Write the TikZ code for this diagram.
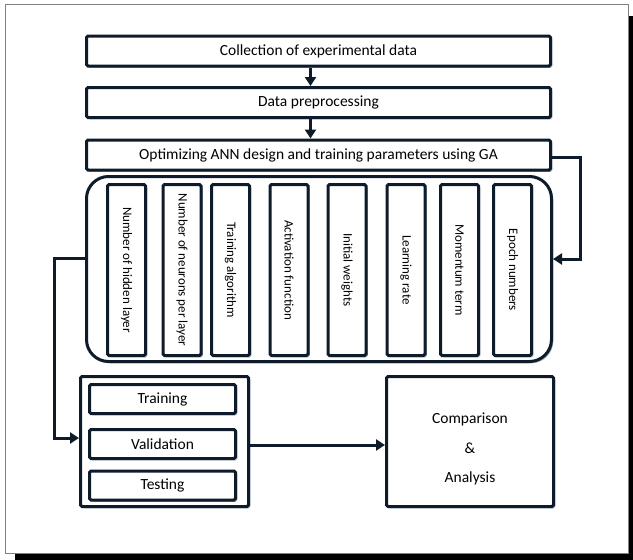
\documentclass[tikz,border=0pt]{standalone}
\usepackage{fontspec}
\setmainfont{Carlito}
\usetikzlibrary{arrows.meta,shadows}

\definecolor{navy}{RGB}{14,27,42}
\definecolor{shade}{RGB}{165,185,198}

\tikzset{
  stepbox/.style={draw=navy, line width=3pt, fill=white, rounded corners=1.5pt, inner sep=0pt,
    drop shadow={shadow xshift=1.8pt, shadow yshift=-1.8pt, fill=shade, opacity=1}},
  wide/.style={stepbox, minimum width=464pt, minimum height=30pt},
  param/.style={stepbox, minimum width=38pt, minimum height=171pt, font=\fontsize{13}{15}\selectfont},
  split/.style={stepbox, minimum width=146pt, minimum height=29pt},
  flow/.style={draw=navy, line width=3pt, -{Triangle[length=9pt,width=11pt]}}
}

\begin{document}
\begin{tikzpicture}[x=1pt,y=-1pt,every node/.style={font=\fontsize{15.5}{18}\selectfont}]
            \useasboundingbox (0,0) rectangle (633,560);

            %frame
            \fill[black] (15,16) rectangle (633,560);
            \filldraw[fill=white,draw=gray,line width=0.8pt] (5,4) rectangle (628,553);

            %main steps
            \node[wide] (collect) at (318.5,51) {Collection of experimental data};
            \node[wide] (prep) at (318.5,102.5) {Data preprocessing};
            \node[wide] (optim) at (318.5,155) {Optimizing ANN design and training parameters using GA};

            %GA parameters
            \node[stepbox,rounded corners=22pt,minimum width=465pt,minimum height=185pt] (params) at (319,269) {};
            \node[param] (hidden) at (126.5,270) {\rotatebox[origin=c]{-90}{Number of hidden layer}};
            \node[param] (neurons) at (182,270) {\rotatebox[origin=c]{-90}{Number of neurons per layer}};
            \node[param] (algo) at (230.5,270) {\rotatebox[origin=c]{-90}{Training algorithm}};
            \node[param] (activ) at (289,270) {\rotatebox[origin=c]{-90}{Activation function}};
            \node[param] (weights) at (347,270) {\rotatebox[origin=c]{-90}{Initial weights}};
            \node[param] (lrate) at (406,270) {\rotatebox[origin=c]{-90}{Learning rate}};
            \node[param] (momentum) at (459.5,270) {\rotatebox[origin=c]{-90}{Momentum term}};
            \node[param] (epoch) at (512.5,270) {\rotatebox[origin=c]{-90}{Epoch numbers}};

            %data split
            \node[stepbox,minimum width=168pt,minimum height=130pt] (group) at (164.5,441.5) {};
            \node[split] (train) at (162.5,399) {Training};
            \node[split] (valid) at (162.5,444) {Validation};
            \node[split] (test) at (162.5,485.5) {Testing};

            %result
            \node[stepbox,minimum width=167pt,minimum height=130pt] (compare) at (470,441.5)
                {\raisebox{-8pt}[\height][\depth]{\begin{tabular}{@{}c@{}}Comparison\\[11.5pt]\&\\[11.5pt]Analysis\end{tabular}}};

            %arrows
            \draw[flow] ([xshift=-8pt]collect.south) -- ([xshift=-8pt]prep.north);
            \draw[flow] ([xshift=-8pt]prep.south) -- ([xshift=-8pt]optim.north);
            \draw[flow] ([yshift=-2pt]optim.east) -- ++(28,0) |- ([yshift=10pt]params.east);
            \draw[flow] ([yshift=11pt]params.west) -- ++(-31,0) |- ([yshift=3.5pt]group.west);
            \draw[flow] ([yshift=-3.5pt]group.east) -- ([yshift=-3.5pt]compare.west);
        \end{tikzpicture}
\end{document}
